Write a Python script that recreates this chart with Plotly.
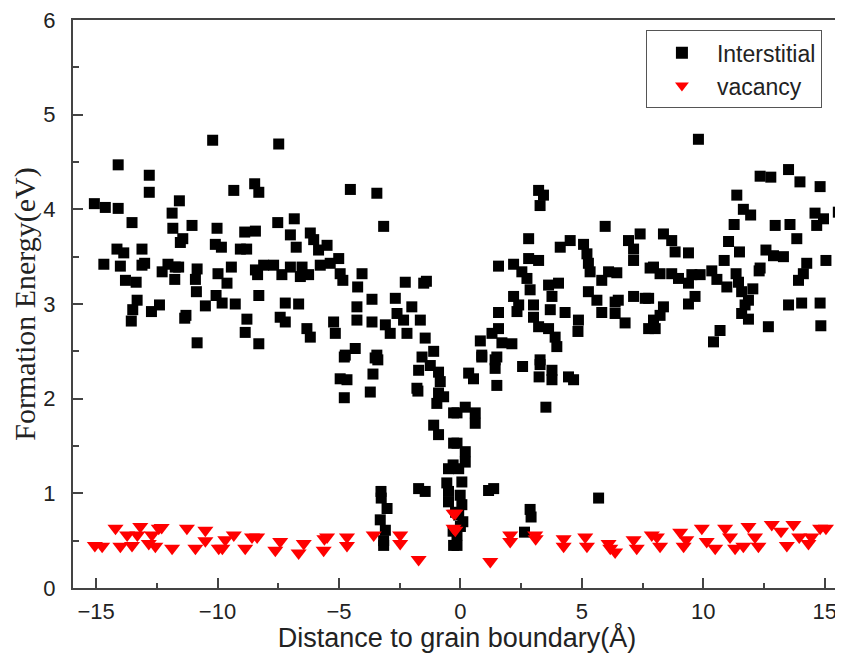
import plotly.graph_objects as go

# Interstitial formation energies (distance in Å, energy in eV)
inter_x = [
    -10.2, -14.09, -12.81, -12.81, -15.07, -14.62, -14.09, -13.52, -11.57, -11.87,
    -11.84, -11.05, -11.43, -11.53, -10.02, -9.33, -8.47, -8.30, -8.88, -8.44,
    -10.09, -9.84, -9.06, -8.80, -14.14, -13.86, -13.11, -14.68, -14.0, -13.11,
    -13.0, -12.28, -12.04, -11.74, -11.6, -11.76, -10.84, -10.91, -9.43, -9.98,
    -9.61, -8.44, -8.35, -13.79, -13.35, -13.31, -13.49, -13.55, -12.72, -12.39,
    -11.35, -11.3, -10.87, -10.5, -10.06, -9.81, -9.27, -8.79, -8.86, -8.3,
    -10.84, -8.30,
    -7.48, -4.53, -3.44, -3.16, -7.52, -6.84, -7.0, -6.76, -6.18, -6.04,
    -5.84, -5.49, -5.01, -8.1, -7.69, -7.35, -7.0, -6.52, -6.59, -6.25,
    -5.77, -5.36, -4.95, -4.84, -4.05, -4.23, -2.27, -1.51, -1.4, -7.21,
    -7.42, -7.21, -6.66, -6.32, -6.18, -5.22, -5.15, -3.64, -4.26, -4.26,
    -3.64, -2.68, -2.61, -3.09, -2.89, -2.34, -2.0, -1.65, -2.2, -1.45,
    -1.10, -4.74, -4.33, -3.44,
    3.22, 3.42, 3.28, 5.96, 2.81, 4.52, 4.11, 5.07, 5.21, 5.27,
    5.34, 6.92, 7.4, 7.13, 7.13, 7.81, 1.57, 2.19, 2.81, 3.22,
    2.53, 2.74, 2.87, 2.19, 2.40, 2.33, 3.01, 3.01, 3.22, 3.63,
    4.04, 3.77, 3.70, 3.63, 3.90, 3.97, 4.31, 4.86, 4.84, 5.27,
    5.62, 5.82, 6.10, 6.44, 5.82, 6.37, 6.5, 6.37, 6.78, 7.13,
    7.61, 7.75, 1.57, 1.57, 1.30, 0.82, 1.71, 2.12, 0.88, 1.5,
    3.28,
    9.80, 12.34, 12.78, 13.51, 13.98, 14.81, 11.38, 11.65, 11.95, 14.6,
    14.95, 15.56, 14.67, 11.27, 12.96, 13.57, 13.85, 8.36, 8.70, 8.84,
    9.39, 11.04, 11.49, 10.86, 12.58, 12.89, 13.3, 12.34, 12.3, 14.26,
    14.12, 13.92, 15.05, 7.95, 8.22, 8.70, 8.98, 9.53, 9.39, 9.87,
    10.35, 10.56, 10.97, 11.35, 11.45, 11.58, 12.04, 11.86, 11.72, 11.58,
    11.86, 12.68, 9.66, 9.39, 7.75, 8.36, 8.22, 7.95, 8.02, 10.69,
    10.42, 13.51, 14.05, 14.81, 14.84,
    -4.78, -3.51, -3.4, -4.95, -4.67, -4.78, -3.60, -3.71, -1.58, -1.24,
    -1.72, -0.90, -0.83, -1.79, -1.75, -0.9, -0.69, -0.97, -0.28, -1.10,
    -0.90, -0.28, -0.49, -0.3, -0.56, -0.49, -0.49, -0.28, -1.72, -1.45,
    -3.27, -3.26, -3.02, -3.30, -3.09, -3.16, -3.16,
    0.88, 1.43, 1.43, 0.34, 0.54, 1.50, 2.56, 3.28, 3.24, 3.77,
    3.77, 4.45, 4.66, 3.52, 0.2, -0.14, 0.61, 0.61, -0.14, 0.2,
    0.2, -0.07, 0.06, -0.01, 0.06, -0.07, -0.14, -0.14, 1.16, 1.37,
    2.87, 2.91, 2.64, 5.69, 0.0, -0.2, -0.3, 0.1,
]
inter_y = [
    4.73, 4.47, 4.36, 4.18, 4.06, 4.02, 4.01, 3.86, 4.09, 3.96,
    3.80, 3.83, 3.69, 3.65, 3.80, 4.20, 4.27, 4.18, 3.76, 3.77,
    3.63, 3.60, 3.58, 3.58, 3.58, 3.54, 3.58, 3.42, 3.40, 3.41,
    3.43, 3.34, 3.42, 3.39, 3.39, 3.26, 3.37, 3.26, 3.39, 3.32,
    3.22, 3.36, 3.31, 3.25, 3.23, 3.04, 2.94, 2.82, 2.92, 2.99,
    2.85, 2.88, 3.13, 2.98, 3.09, 3.01, 3.00, 2.84, 2.70, 3.09,
    2.59, 2.58,
    4.69, 4.21, 4.17, 3.82, 3.86, 3.90, 3.73, 3.60, 3.75, 3.68,
    3.57, 3.62, 3.48, 3.41, 3.41, 3.31, 3.39, 3.39, 3.29, 3.31,
    3.41, 3.43, 3.32, 3.25, 3.32, 3.18, 3.23, 3.22, 3.24, 3.01,
    2.86, 2.81, 3.00, 2.74, 2.65, 2.81, 2.69, 3.05, 2.97, 2.83,
    2.81, 3.06, 2.90, 2.78, 2.69, 2.83, 2.97, 2.83, 2.69, 2.64,
    2.50, 2.46, 2.53, 2.46,
    4.20, 4.15, 4.04, 3.82, 3.69, 3.67, 3.60, 3.63, 3.53, 3.43,
    3.34, 3.67, 3.74, 3.58, 3.46, 3.38, 3.40, 3.42, 3.48, 3.46,
    3.34, 3.27, 3.15, 3.08, 2.99, 2.92, 2.99, 2.86, 2.76, 3.20,
    3.22, 3.08, 2.94, 2.74, 2.65, 2.55, 2.91, 2.83, 2.71, 3.13,
    3.04, 3.25, 3.34, 3.33, 2.91, 3.02, 3.04, 2.90, 2.80, 3.08,
    3.06, 2.74, 2.91, 2.74, 2.69, 2.61, 2.59, 2.58, 2.46, 2.44,
    2.41,
    4.74, 4.35, 4.34, 4.42, 4.29, 4.24, 4.15, 4.00, 3.94, 3.96,
    3.90, 3.97, 3.83, 3.84, 3.83, 3.84, 3.69, 3.74, 3.67, 3.55,
    3.54, 3.66, 3.55, 3.46, 3.57, 3.51, 3.50, 3.38, 3.35, 3.43,
    3.32, 3.25, 3.46, 3.39, 3.32, 3.32, 3.27, 3.31, 3.22, 3.31,
    3.35, 3.26, 3.18, 3.32, 3.23, 3.13, 3.16, 3.04, 2.99, 2.90,
    2.84, 2.76, 3.08, 3.00, 3.06, 2.97, 2.88, 2.83, 2.74, 2.72,
    2.60, 2.99, 3.01, 3.01, 2.77,
    2.44, 2.43, 2.41, 2.21, 2.20, 2.01, 2.26, 2.07, 2.44, 2.35,
    2.30, 2.28, 2.18, 2.11, 2.08, 2.06, 2.02, 1.95, 1.85, 1.72,
    1.62, 1.53, 1.26, 1.30, 1.11, 1.02, 0.91, 0.45, 1.05, 1.02,
    1.02, 0.95, 0.84, 0.72, 0.61, 0.45, 0.50,
    2.44, 2.41, 2.32, 2.27, 2.21, 2.14, 2.34, 2.36, 2.23, 2.30,
    2.20, 2.23, 2.20, 1.91, 1.91, 1.85, 1.85, 1.74, 1.53, 1.44,
    1.33, 1.26, 1.12, 0.98, 0.88, 0.77, 0.56, 0.45, 1.03, 1.05,
    0.83, 0.75, 0.59, 0.95, 0.65, 0.80, 0.60, 0.70,
]

# Vacancy formation energies
vac_x = [
    -15.05, -14.75, -14.2, -14.0, -13.72, -13.52, -13.18, -13.3, -12.83, -12.7,
    -12.42, -12.3, -12.56, -11.87, -11.26, -10.91, -10.5, -10.5, -9.95, -9.8,
    -9.68, -9.33, -8.86, -8.58,
    -8.37, -7.62, -7.42, -6.66, -6.45, -5.63, -5.49, -5.6, -4.67, -4.67,
    -3.57, -2.48, -2.48, -1.72, -0.28, -0.28,
    -0.21, -0.21, 1.23, 2.05, 2.05, 3.08, 3.1, 4.25, 4.25, 5.14,
    5.21, 6.17, 6.37, 6.1, 7.13, 7.26, 7.88,
    8.22, 8.09, 9.05, 9.19, 9.3, 9.94, 10.14, 10.49, 10.9, 11.1,
    11.31, 11.65, 11.86, 12.13, 12.27, 12.82, 13.2, 13.44, 13.71, 13.95,
    14.33, 14.45, 14.81, 15.05,
]
vac_y = [
    0.45, 0.44, 0.63, 0.44, 0.56, 0.45, 0.65, 0.56, 0.47, 0.56,
    0.63, 0.64, 0.44, 0.42, 0.63, 0.42, 0.61, 0.50, 0.42, 0.42,
    0.51, 0.56, 0.42, 0.54,
    0.54, 0.40, 0.49, 0.37, 0.47, 0.40, 0.54, 0.52, 0.45, 0.54,
    0.56, 0.56, 0.47, 0.30, 0.79, 0.63,
    0.79, 0.61, 0.28, 0.56, 0.49, 0.56, 0.52, 0.52, 0.44, 0.54,
    0.44, 0.42, 0.38, 0.47, 0.51, 0.42, 0.56,
    0.44, 0.54, 0.59, 0.44, 0.51, 0.63, 0.49, 0.42, 0.63, 0.54,
    0.42, 0.44, 0.65, 0.54, 0.44, 0.67, 0.60, 0.45, 0.67, 0.54,
    0.47, 0.54, 0.63, 0.63,
]

fig = go.Figure()
fig.add_trace(go.Scatter(
    x=inter_x, y=inter_y, mode="markers", name="Interstitial",
    marker=dict(symbol="square", size=11, color="black"),
))
fig.add_trace(go.Scatter(
    x=vac_x, y=vac_y, mode="markers", name="vacancy",
    marker=dict(symbol="triangle-down", size=14, color="#ff0000"),
))

axis_common = dict(
    showline=True, linecolor="#444", linewidth=2, mirror=True,
    showgrid=False, zeroline=False, automargin=False,
    ticks="inside", ticklen=10, tickwidth=2, tickcolor="#444",
    ticklabeloverflow="allow",
    tickfont=dict(family="Liberation Sans, Arial", size=22, color="#222"),
)

fig.update_xaxes(
    range=[-15.95, 15.67], tickvals=[-15, -10, -5, 0, 5, 10, 15],
    ticklabelstandoff=3,
    minor=dict(ticks="inside", ticklen=5, tickwidth=1.5, tickcolor="#444", dtick=2.5, tick0=0),
    title=dict(text="Distance to grain boundary(Å)", standoff=4,
               font=dict(family="Liberation Sans, Arial", size=27, color="#222")),
    **axis_common,
)
fig.update_yaxes(
    range=[0, 6], dtick=1,
    ticklabelstandoff=11,
    minor=dict(ticks="inside", ticklen=6, tickwidth=1.5, tickcolor="#444", dtick=0.5),
    title=dict(text="Formation Energy(eV)", standoff=14,
               font=dict(family="Liberation Serif, Times New Roman", size=30, color="#222")),
    **axis_common,
)

# page body adds an 8px margin, so the figure is sized to fit the window
fig.update_layout(
    width=835, height=645,
    margin=dict(l=65, r=2, t=12, b=65),
    plot_bgcolor="white", paper_bgcolor="white",
    showlegend=True,
    legend=dict(
        x=0.746, y=0.982, xanchor="left", yanchor="top",
        bgcolor="white", bordercolor="#555", borderwidth=1,
        font=dict(family="Liberation Sans, Arial", size=23, color="#222"),
        itemsizing="constant", itemwidth=60, entrywidth=115,
    ),
)

fig.write_html("out.html")
